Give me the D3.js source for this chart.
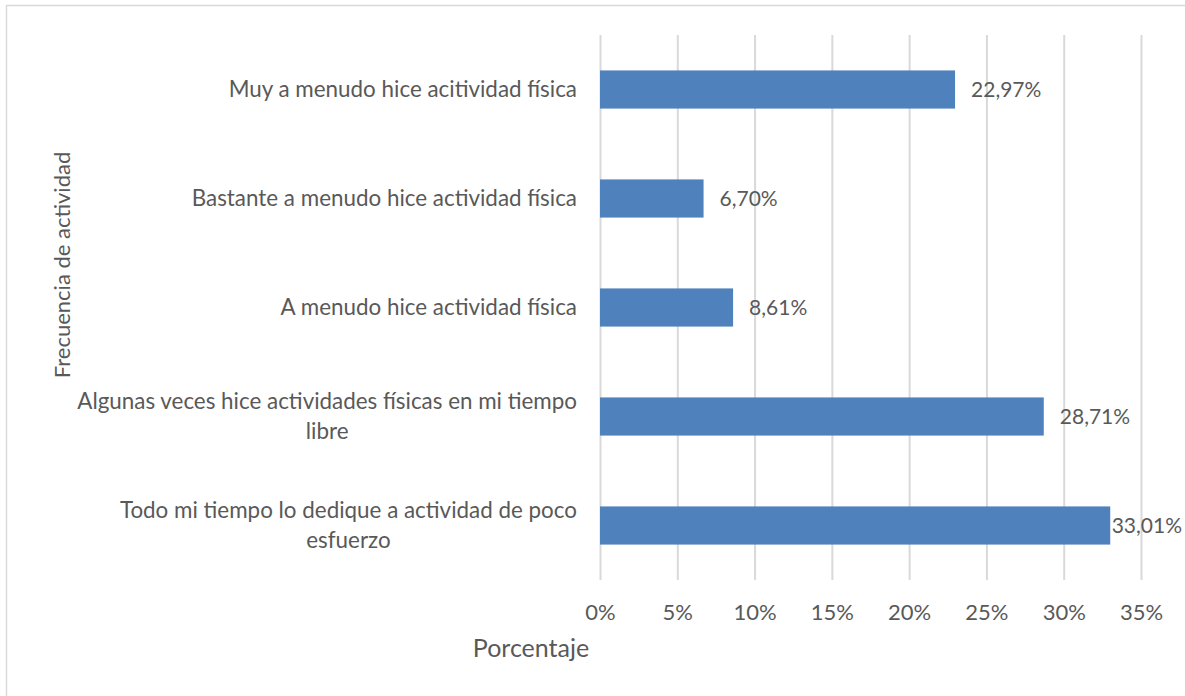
<!DOCTYPE html>
<html>
<head>
<meta charset="utf-8">
<script src="https://cdn.jsdelivr.net/npm/d3@7/dist/d3.min.js"></script>
<style>
  html, body { margin: 0; padding: 0; background: #fff; }
  svg { display: block; }
  text { font-family: Lato, "Open Sans", sans-serif; fill: #595959; }
</style>
</head>
<body>
<script>
// Activity frequency categories, top to bottom
const categories = [
  "Muy a menudo hice acitividad física",
  "Bastante a menudo hice actividad física",
  "A menudo hice actividad física",
  "Algunas veces hice actividades físicas en mi tiempo libre",
  "Todo mi tiempo lo dedique a actividad de poco esfuerzo"
];
// Share of respondents (%)
const values = [22.97, 6.70, 8.61, 28.71, 33.01];
const valueLabels = ["22,97%", "6,70%", "8,61%", "28,71%", "33,01%"];
// Horizontal axis ticks (%)
const xTicks = [0, 5, 10, 15, 20, 25, 30, 35];
const xTitle = "Porcentaje";
const yTitle = "Frecuencia de actividad";

const W = 1185, H = 696;
const plot = { left: 600, right: 1141, top: 35, bottom: 580 };

const svg = d3.select("body").append("svg").attr("width", W).attr("height", H);

// chart frame (runs off the right and bottom edges)
svg.append("rect")
  .attr("x", 6.5).attr("y", 5.5)
  .attr("width", W).attr("height", H)
  .attr("fill", "none").attr("stroke", "#d9d9d9").attr("stroke-width", 1.5);

const x = d3.scaleLinear().domain([0, 35]).range([plot.left, plot.right]);
const y = d3.scaleBand().domain(categories).range([plot.top, plot.bottom]).paddingInner(0.65).paddingOuter(0.325);

// vertical gridlines + tick labels
const xAxis = d3.axisBottom(x).tickValues(xTicks).tickSize(-(plot.bottom - plot.top)).tickFormat(d => d + "%").tickPadding(24);
const gx = svg.append("g").attr("transform", `translate(0,${plot.bottom})`).call(xAxis);
gx.select(".domain").remove();
gx.selectAll(".tick line").attr("stroke", "#d9d9d9").attr("stroke-width", 2);
gx.selectAll(".tick text").attr("font-size", 22).attr("fill", "#595959").attr("font-family", "Lato, 'Open Sans', sans-serif");

// bars
svg.append("g").selectAll("rect").data(categories).join("rect")
  .attr("x", x(0))
  .attr("y", d => y(d))
  .attr("width", (d, i) => x(values[i]) - x(0))
  .attr("height", y.bandwidth())
  .attr("fill", "#4f81bd");

// value labels, kept inside the frame
const right = W - 3;
svg.append("g").selectAll("text").data(categories).join("text")
  .attr("font-size", 21)
  .attr("y", d => y(d) + y.bandwidth() / 2 + 7.5)
  .text((d, i) => valueLabels[i])
  .attr("x", function (d, i) {
    const w = this.getComputedTextLength();
    return Math.min(x(values[i]) + 16, right - w);
  });

// category labels, wrapped and right-aligned to the axis
const labelRight = 577, maxWidth = 520, lineH = 30, labelSize = 22.4;
const gy = svg.append("g");
categories.forEach(cat => {
  const probe = gy.append("text").attr("font-size", labelSize);
  const words = cat.split(" ");
  const lines = [];
  let line = [];
  words.forEach(w => {
    const trial = line.concat(w).join(" ");
    probe.text(trial);
    if (probe.node().getComputedTextLength() > maxWidth && line.length) {
      lines.push(line.join(" "));
      line = [w];
    } else line.push(w);
  });
  lines.push(line.join(" "));
  probe.text(lines[0]);
  const w0 = probe.node().getComputedTextLength();
  probe.remove();
  const cx = labelRight - w0 / 2;
  const cy = y(cat) + y.bandwidth() / 2;
  const t = gy.append("text").attr("font-size", labelSize).attr("text-anchor", "middle");
  lines.forEach((l, k) => {
    t.append("tspan").attr("x", cx)
      .attr("y", cy + 7.5 - (lines.length - 1) * lineH / 2 + k * lineH)
      .text(l);
  });
});

// axis titles
svg.append("text").attr("x", 531).attr("y", 657).attr("text-anchor", "middle").attr("font-size", 25).text(xTitle);
svg.append("text").attr("transform", "translate(70,265) rotate(-90)").attr("text-anchor", "middle").attr("font-size", 22).text(yTitle);
</script>
</body>
</html>
